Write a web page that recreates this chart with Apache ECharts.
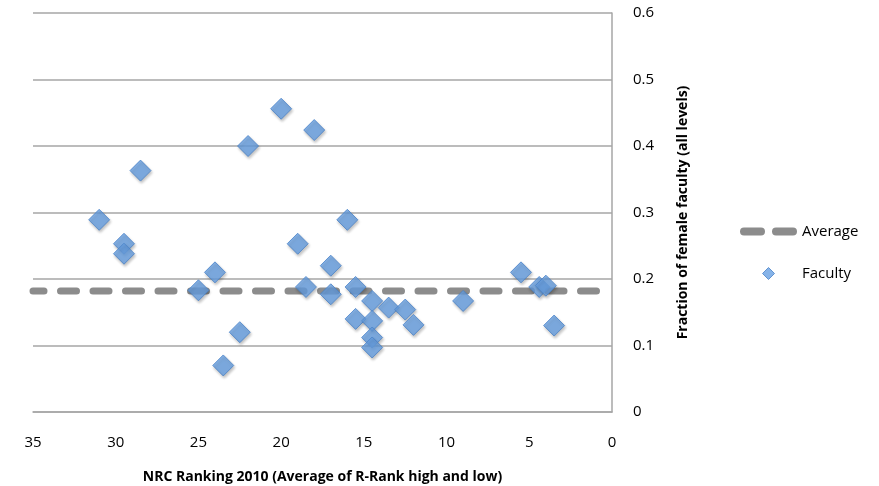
<!DOCTYPE html>
<html>
<head>
<meta charset="utf-8">
<script src="https://cdn.jsdelivr.net/npm/echarts@6/dist/echarts.min.js"></script>
<style>
  html, body { margin: 0; padding: 0; background: #fff; }
  #main { width: 879px; height: 486px; }
</style>
</head>
<body>
<div id="main"></div>
<script>
// NRC ranking vs fraction of female faculty
var rankings = [20, 18, 22, 28.5, 31, 16, 29.5, 29.5, 19, 17, 24, 25, 18.5, 17, 15.5,
    14.5, 15.5, 14.5, 13.5, 12.5, 12, 14.5, 14.5, 9, 5.5, 4.4, 4, 3.5, 22.5, 23.5];
var fractions = [0.456, 0.424, 0.40, 0.363, 0.289, 0.289, 0.253, 0.238, 0.253, 0.22, 0.21, 0.183, 0.188, 0.177, 0.188,
    0.167, 0.14, 0.137, 0.157, 0.154, 0.131, 0.112, 0.097, 0.167, 0.21, 0.188, 0.19, 0.13, 0.12, 0.07];
var averageValue = 0.182;
var averageRange = [35, 0];

var myChart = echarts.init(document.getElementById('main'));

var facultyData = rankings.map(function (r, i) { return [r, fractions[i]]; });
var averageData = averageRange.map(function (r) { return [r, averageValue]; });

var font = '"Open Sans", "Liberation Sans", sans-serif';

// legend icons: two rounded dashes, and a small diamond
var dashIcon = 'path://M4,0H21A4,4 0 0 1 21,8H4A4,4 0 0 1 4,0Z M36,0H53A4,4 0 0 1 53,8H36A4,4 0 0 1 36,0Z';
var diamondIcon = 'path://M6,0L12,6L6,12L0,6Z';

option = {
    animation: false,
    textStyle: { fontFamily: font },
    grid: {
        left: 33,
        right: 267,
        top: 13,
        bottom: 74,
        outerBoundsMode: 'none'
    },
    legend: {
        orient: 'vertical',
        left: 735,
        top: 219,
        itemWidth: 57,
        itemHeight: 12,
        itemGap: 27,
        symbolKeepAspect: true,
        textStyle: { fontSize: 15, color: '#000', fontFamily: font },
        data: [
            { name: 'Average', icon: dashIcon, itemStyle: { color: '#8c8c8c', borderWidth: 0 } },
            { name: 'Faculty', icon: diamondIcon, itemStyle: { color: '#68a0e2', borderColor: '#4a82c8', borderWidth: 1 } }
        ]
    },
    xAxis: {
        type: 'value',
        inverse: true,
        min: 0,
        max: 35,
        interval: 5,
        name: 'NRC Ranking 2010 (Average of R-Rank high and low)',
        nameLocation: 'middle',
        nameGap: 58,
        nameTextStyle: { fontSize: 14, fontWeight: 'bold', color: '#000', fontFamily: font },
        axisLine: { lineStyle: { color: '#a6a6a6', width: 1.5 } },
        axisTick: { show: false },
        splitLine: { show: false },
        axisLabel: { margin: 23, fontSize: 15, color: '#000', fontFamily: font }
    },
    yAxis: {
        type: 'value',
        position: 'right',
        min: 0,
        max: 0.6,
        interval: 0.1,
        name: 'Fraction of female faculty (all levels)',
        nameLocation: 'middle',
        nameRotate: 90,
        nameGap: 64,
        nameTextStyle: { fontSize: 14, fontWeight: 'bold', color: '#000', fontFamily: font },
        axisLine: { show: true, lineStyle: { color: '#a6a6a6', width: 1.5 } },
        axisTick: { show: false },
        splitLine: { lineStyle: { color: '#a6a6a6', width: 1.5 } },
        axisLabel: {
            margin: 21,
            fontSize: 15,
            color: '#000',
            fontFamily: font,
            formatter: function (v) { return String(Math.round(v * 10) / 10); }
        }
    },
    series: [
        {
            name: 'Average',
            type: 'line',
            symbol: 'none',
            data: averageData,
            lineStyle: {
                color: '#8c8c8c',
                width: 7,
                type: [16, 16.5],
                dashOffset: 5,
                cap: 'round'
            },
            itemStyle: { color: '#8c8c8c' },
            z: 1
        },
        {
            name: 'Faculty',
            type: 'scatter',
            symbol: 'diamond',
            symbolSize: 21,
            data: facultyData,
            itemStyle: {
                color: '#68a0e2',
                borderColor: '#4a82c8',
                borderWidth: 1,
                shadowColor: 'rgba(0,0,0,0.3)',
                shadowBlur: 3,
                shadowOffsetX: 1,
                shadowOffsetY: 2
            },
            z: 3
        }
    ]
};

myChart.setOption(option);
</script>
</body>
</html>
